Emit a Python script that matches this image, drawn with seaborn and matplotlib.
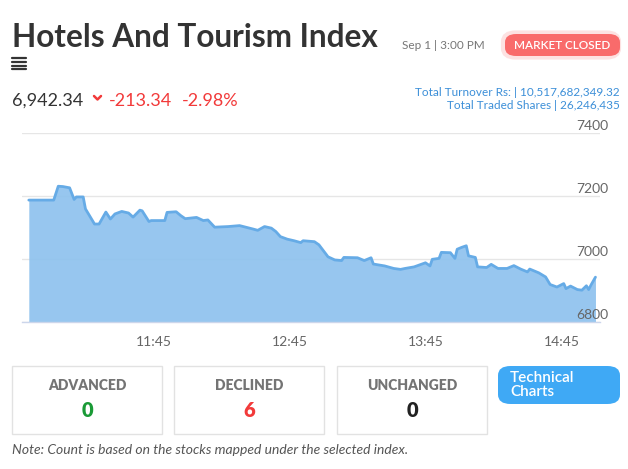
import matplotlib
matplotlib.use("Agg")
import matplotlib.pyplot as plt
import matplotlib.dates as mdates
import matplotlib.transforms as mtransforms
from matplotlib.patches import FancyBboxPatch, Rectangle
from matplotlib.lines import Line2D
import seaborn as sns
import pandas as pd

# ---------------- data ----------------
times = ["10:50", "11:01", "11:03", "11:05", "11:08", "11:10", "11:11", "11:14",
         "11:15", "11:17", "11:19", "11:21", "11:24", "11:26", "11:28", "11:31",
         "11:34", "11:36", "11:39", "11:40", "11:43", "11:44", "11:50", "11:51",
         "11:55", "11:57", "11:59", "12:04", "12:07", "12:09", "12:12", "12:18",
         "12:23", "12:29", "12:31", "12:34", "12:37", "12:39", "12:41", "12:44",
         "12:47", "12:50", "12:51", "12:56", "12:58", "13:02", "13:05", "13:08",
         "13:09", "13:15", "13:18", "13:21", "13:22", "13:27", "13:31", "13:34",
         "13:36", "13:40", "13:45", "13:47", "13:48", "13:51", "13:52", "13:56",
         "13:58", "13:59", "14:01", "14:03", "14:04", "14:07", "14:08", "14:12",
         "14:14", "14:17", "14:21", "14:24", "14:27", "14:30", "14:31", "14:35",
         "14:38", "14:40", "14:43", "14:46", "14:47", "14:49", "14:52", "14:54",
         "14:56", "14:57", "14:58", "15:00"]
values = [7187, 7187, 7231, 7230, 7226, 7189, 7197, 7197,
          7159, 7135, 7111, 7111, 7149, 7127, 7143, 7151,
          7146, 7133, 7155, 7153, 7119, 7122, 7122, 7148,
          7150, 7138, 7128, 7132, 7122, 7124, 7101, 7103,
          7106, 7095, 7091, 7103, 7098, 7087, 7071, 7063,
          7058, 7052, 7058, 7055, 7045, 7007, 6997, 6995,
          7005, 7004, 6995, 7004, 6984, 6978, 6970, 6967,
          6970, 6975, 6988, 6978, 6999, 7002, 7021, 7020,
          7002, 7031, 7037, 7042, 7010, 7005, 6975, 6973,
          6983, 6970, 6970, 6979, 6968, 6959, 6968, 6956,
          6943, 6919, 6911, 6922, 6906, 6914, 6903, 6901,
          6915, 6903, 6917, 6942.34]
y_ticks = [6800, 7000, 7200, 7400]
x_tick_labels = ["11:45", "12:45", "13:45", "14:45"]
x_range = ["10:47", "15:02"]

title = "Hotels And Tourism Index"
timestamp = "Sep 1 | 3:00 PM"
status = "MARKET CLOSED"
last_value = "6,942.34"
change = "-213.34"
change_pct = "-2.98%"
turnover = "Total Turnover Rs: | 10,517,682,349.32"
shares = "Total Traded Shares | 26,246,435"
box_labels = ["ADVANCED", "DECLINED", "UNCHANGED"]
box_counts = ["0", "6", "0"]
box_colors = ["#1a9a36", "#f23a3a", "#222222"]
note = "Note: Count is based on the stocks mapped under the selected index."

# ---------------- style ----------------
sns.set_theme(style="white")
plt.rcParams['font.family'] = ['Lato', 'DejaVu Sans']

W, H = 628, 469
fig = plt.figure(figsize=(W / 100, H / 100), dpi=100)
fig.patch.set_facecolor("white")


def fx(px):
    return px / W


def fy(py):
    return 1 - py / H


day = "2023-09-01 "
df = pd.DataFrame({"time": pd.to_datetime([day + t for t in times]),
                   "value": values})

ax = fig.add_axes([fx(22), fy(322), fx(600) - fx(22), fy(133) - fy(322)])
ax.set_ylim(min(y_ticks), max(y_ticks))
ax.set_xlim(pd.to_datetime(day + x_range[0]), pd.to_datetime(day + x_range[1]))
ax.fill_between(df["time"], df["value"], ax.get_ylim()[0],
                color="#8fc2ee", alpha=0.93, lw=0, zorder=2)
sns.lineplot(data=df, x="time", y="value", ax=ax, color="#66abe6",
             lw=2, zorder=3)

ax.set_xlabel("")
ax.set_ylabel("")
ax.set_yticks(y_ticks)
ax.set_yticklabels([])
ax.tick_params(axis="y", length=0, left=False, right=False)
ax.grid(axis="y", color="#e6e6e6", lw=1)
ax.grid(axis="x", visible=False)
ax.set_axisbelow(True)
ytrans = mtransforms.blended_transform_factory(ax.transAxes, ax.transData)
offset = mtransforms.ScaledTranslation(8 / 100, 1 / 100, fig.dpi_scale_trans)
for v in y_ticks:
    ax.text(1.0, v, str(v), transform=ytrans + offset, ha="right",
            va="bottom", fontsize=10, color="#666666", zorder=6, clip_on=False)

ax.set_xticks(pd.to_datetime([day + t for t in x_tick_labels]))
ax.xaxis.set_major_formatter(mdates.DateFormatter("%H:%M"))
ax.tick_params(axis="x", length=8, width=1, color="#ccd6eb", pad=2,
               labelsize=10, labelcolor="#666666", direction="out")
for s in ["top", "left", "right"]:
    ax.spines[s].set_visible(False)
ax.spines["bottom"].set_color("#ccd6eb")
ax.spines["bottom"].set_linewidth(1)
ax.spines["bottom"].set_zorder(5)
ax.set_facecolor("none")

# ---------------- header ----------------
fig.text(fx(12), fy(47), title, fontsize=22.7, fontweight="bold",
         color="#333333", ha="left", va="baseline")
for i in range(4):
    yy = 58 + i * 3.8
    fig.add_artist(Line2D([fx(12), fx(26)], [fy(yy), fy(yy)], color="#333333",
                          lw=1.6))
fig.text(fx(402), fy(45.5), timestamp, fontsize=8.5, color="#777777",
         ha="left", va="center")
glow = FancyBboxPatch((fx(503), fy(57.5)), fx(619) - fx(503), fy(32.5) - fy(57.5),
                      boxstyle="round,pad=0,rounding_size=0.02",
                      transform=fig.transFigure, facecolor="#fcd0d0",
                      edgecolor="#fde2e2", lw=3)
fig.add_artist(glow)
badge = FancyBboxPatch((fx(505), fy(56)), fx(620) - fx(505), fy(34) - fy(56),
                       boxstyle="round,pad=0,rounding_size=0.018",
                       transform=fig.transFigure, facecolor="#f96b6b",
                       edgecolor="none")
fig.add_artist(badge)
fig.text(fx(562), fy(45.5), status, fontsize=8.5, color="white",
         ha="center", va="center", fontweight="semibold")

fig.text(fx(12), fy(106), last_value, fontsize=13, color="#333333",
         ha="left", va="baseline")
fig.add_artist(Line2D([fx(94), fx(97.5), fx(101)], [fy(96), fy(99.5), fy(96)],
                      color="#f23a3a", lw=1.8))
fig.text(fx(109), fy(106), change, fontsize=13, color="#f23a3a",
         ha="left", va="baseline")
fig.text(fx(182), fy(106), change_pct, fontsize=13, color="#f23a3a",
         ha="left", va="baseline")
fig.text(fx(620), fy(92.5), turnover, fontsize=8.5, color="#3c8fd8",
         ha="right", va="center")
fig.text(fx(620), fy(105.5), shares, fontsize=8.5, color="#3c8fd8",
         ha="right", va="center")

# ---------------- bottom boxes ----------------
box_x = [12, 174, 337]
for bx, lab, cnt, col in zip(box_x, box_labels, box_counts, box_colors):
    fig.add_artist(Rectangle((fx(bx), fy(434)), fx(150), fy(366) - fy(434),
                             transform=fig.transFigure, facecolor="white",
                             edgecolor="#e2e2e2", lw=1))
    cx = bx + 75
    fig.text(fx(cx), fy(385), lab, fontsize=10, fontweight="heavy",
             color="#747474", ha="center", va="center")
    fig.text(fx(cx), fy(410), cnt, fontsize=14.5, fontweight="heavy",
             color=col, ha="center", va="center")

btn = FancyBboxPatch((fx(498), fy(404)), fx(122), fy(366) - fy(404),
                     boxstyle="round,pad=0,rounding_size=0.02",
                     transform=fig.transFigure, facecolor="#3fa9f5",
                     edgecolor="none")
fig.add_artist(btn)
fig.text(fx(510), fy(385), "Technical\nCharts", fontsize=11, color="white",
         ha="left", va="center", linespacing=0.95, fontweight="semibold")

fig.text(fx(12), fy(450), note, fontsize=10, style="italic",
         color="#555555", ha="left", va="center")

fig.savefig("out.png", dpi=100, facecolor="white")
